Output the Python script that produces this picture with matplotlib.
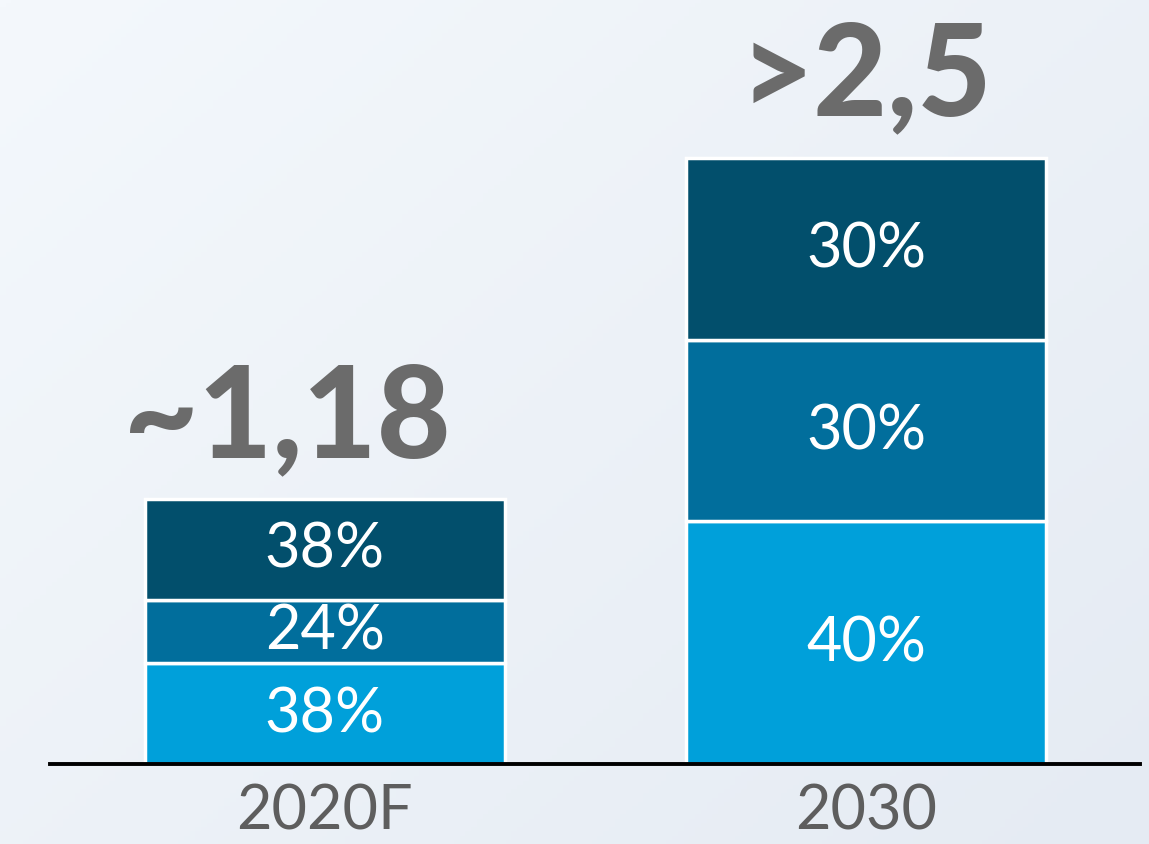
import matplotlib.pyplot as plt
import numpy as np

# categories and values
years = ["2020F", "2030"]
total_labels = ["~1,18", ">2,5"]
bar_height = [1.18, 2.70]          # drawn heights (">2,5" drawn at about 2.7)
# segment shares, bottom -> top
share_bottom = [38, 40]
share_middle = [24, 30]
share_top = [38, 30]

seg_colors = ["#00a0da", "#016e9c", "#024f6c"]
grey = "#6b6b6b"

plt.rcParams["font.family"] = ["Lato", "DejaVu Sans"]

fig = plt.figure(figsize=(11.49, 8.45), dpi=100)

# soft background gradient
bg = fig.add_axes([0, 0, 1, 1], zorder=-1)
gx, gy = np.meshgrid(np.linspace(0, 1, 200), np.linspace(0, 1, 200))
grad = 0.55 * gx + 0.45 * gy
bg.imshow(grad, cmap=plt.matplotlib.colors.LinearSegmentedColormap.from_list(
    "bg", ["#f4f8fc", "#e5ebf3"]), aspect="auto", extent=[0, 1, 0, 1])
bg.axis("off")

ax = fig.add_axes([50 / 1149, 80 / 845, 1090 / 1149, 765 / 845])
ax.patch.set_alpha(0)

x = np.arange(len(years))
width = 0.665
shares = [share_bottom, share_middle, share_top]
bottom = np.zeros(len(years))
for shr, col in zip(shares, seg_colors):
    h = np.array(bar_height) * np.array(shr) / 100
    ax.bar(x, h, width, bottom=bottom, color=col, edgecolor="white",
           linewidth=2.5, zorder=2)
    for i in range(len(years)):
        ax.text(x[i], bottom[i] + h[i] / 2, f"{shr[i]}%", ha="center",
                va="center", color="white", fontsize=44, zorder=3)
    bottom += h

label_dx = [-27, 0]
for i in range(len(years)):
    ax.annotate(total_labels[i], (x[i], bar_height[i]),
                xytext=(label_dx[i], 31), textcoords="offset points",
                ha="center", va="baseline", fontsize=92, fontweight="black",
                color=grey)

ax.set_xlim(-0.508, 1.506)
ax.set_ylim(0, bar_height[0] * 765 / 265)
ax.set_xticks(x, years)
ax.tick_params(axis="x", length=0, pad=13, labelsize=44, labelcolor="#5e5e5e")
ax.set_yticks([])
for s in ["top", "right", "left"]:
    ax.spines[s].set_visible(False)
ax.spines["bottom"].set_linewidth(2.8)
ax.spines["bottom"].set_color("black")
ax.spines["bottom"].set_zorder(4)

fig.savefig("out.png", dpi=100)
